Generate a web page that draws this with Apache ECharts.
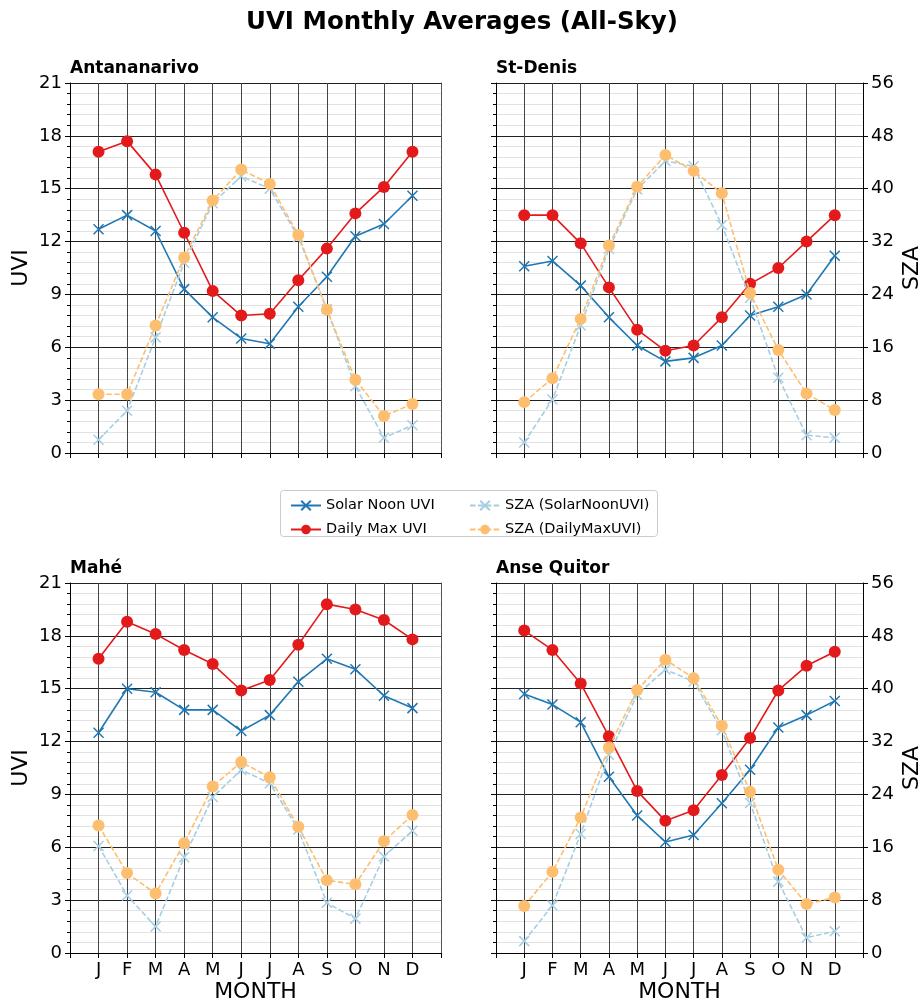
<!DOCTYPE html>
<html>
<head>
<meta charset="utf-8">
<script src="https://cdn.jsdelivr.net/npm/echarts@6/dist/echarts.min.js"></script>
<style>
html,body{margin:0;padding:0;background:#fff;}
#chart{width:924px;height:1006px;}
</style>
</head>
<body>
<div id="chart"></div>
<script>
// ---- Data ----
const MONTHS = ['J','F','M','A','M','J','J','A','S','O','N','D'];
const STATIONS = ['Antananarivo','St-Denis','Mahé','Anse Quitor'];
const SERIES_NAMES = ['Solar Noon UVI','Daily Max UVI','SZA (SolarNoonUVI)','SZA (DailyMaxUVI)'];
const UVI_TICKS = [0,3,6,9,12,15,18,21];
const SZA_TICKS = [0,8,16,24,32,40,48,56];

// Antananarivo
const ANTA_NOON_UVI = [12.7,13.5,12.6,9.3,7.7,6.5,6.2,8.3,10.0,12.3,13.0,14.6];
const ANTA_MAX_UVI  = [17.1,17.7,15.8,12.5,9.2,7.8,7.9,9.8,11.6,13.6,15.1,17.1];
const ANTA_SZA_NOON = [2.0,6.4,17.5,28.8,37.8,41.9,40.0,32.7,21.8,10.1,2.3,4.2];
const ANTA_SZA_MAX  = [8.9,8.9,19.3,29.6,38.2,42.9,40.7,33.0,21.7,11.1,5.6,7.4];
// St-Denis
const STD_NOON_UVI = [10.6,10.9,9.5,7.7,6.1,5.2,5.4,6.1,7.8,8.3,9.0,11.2];
const STD_MAX_UVI  = [13.5,13.5,11.9,9.4,7.0,5.8,6.1,7.7,9.6,10.5,12.0,13.5];
const STD_SZA_NOON = [1.6,8.1,19.3,30.9,39.9,44.2,43.4,34.5,23.5,11.4,2.7,2.3];
const STD_SZA_MAX  = [7.7,11.3,20.3,31.4,40.3,45.1,42.7,39.3,24.2,15.6,9.0,6.5];
// Mahé
const MAHE_NOON_UVI = [12.5,15.0,14.8,13.8,13.8,12.6,13.5,15.4,16.7,16.1,14.6,13.9];
const MAHE_MAX_UVI  = [16.7,18.8,18.1,17.2,16.4,14.9,15.5,17.5,19.8,19.5,18.9,17.8];
const MAHE_SZA_NOON = [16.2,8.7,4.0,14.5,23.6,27.7,25.7,18.7,7.6,5.2,14.6,18.5];
const MAHE_SZA_MAX  = [19.3,12.1,9.0,16.6,25.2,28.9,26.6,19.1,11.0,10.4,16.9,20.9];
// Anse Quitor
const ANSE_NOON_UVI = [14.7,14.1,13.1,10.0,7.8,6.3,6.7,8.5,10.4,12.8,13.5,14.3];
const ANSE_MAX_UVI  = [18.3,17.2,15.3,12.3,9.2,7.5,8.1,10.1,12.2,14.9,16.3,17.1];
const ANSE_SZA_NOON = [1.8,7.2,18.0,30.0,39.1,42.9,41.1,33.7,22.7,10.8,2.3,3.3];
const ANSE_SZA_MAX  = [7.1,12.3,20.5,31.1,39.8,44.4,41.6,34.4,24.4,12.6,7.4,8.4];

const PANEL_DATA = [
  [ANTA_NOON_UVI, ANTA_MAX_UVI, ANTA_SZA_NOON, ANTA_SZA_MAX],
  [STD_NOON_UVI, STD_MAX_UVI, STD_SZA_NOON, STD_SZA_MAX],
  [MAHE_NOON_UVI, MAHE_MAX_UVI, MAHE_SZA_NOON, MAHE_SZA_MAX],
  [ANSE_NOON_UVI, ANSE_MAX_UVI, ANSE_SZA_NOON, ANSE_SZA_MAX]
];

// ---- Styling ----
const FONT = 'DejaVu Sans';
const COLORS = ['#1f78b4','#e31a1c','#a6cee3','#fdbf6f'];
const XPATH = 'path://M0,0L10,10M10,0L0,10';
const GRIDS = [
  {left:70, top:83, width:371, height:370},
  {left:496, top:83, width:371, height:370},
  {left:70, top:583, width:371, height:370},
  {left:496, top:583, width:371, height:370}
];

const grid = [], xAxis = [], yAxis = [], series = [], graphic = [];

GRIDS.forEach((g, gi) => {
  const isLeft = gi % 2 === 0;
  const isBottom = gi >= 2;
  grid.push(Object.assign({containLabel:false}, g));
  xAxis.push({
    type:'value', gridIndex:gi, min:0, max:13, interval:1,
    name: isBottom ? 'MONTH' : '', nameLocation:'middle', nameGap:28,
    nameTextStyle:{fontFamily:FONT, fontSize:22, color:'#000'},
    axisLine:{show:true, onZero:false, lineStyle:{color:'#000', width:1}},
    axisTick:{show:true, length:5, lineStyle:{color:'#000'}},
    axisLabel:{show:isBottom, margin:8, fontFamily:FONT, fontSize:18, color:'#000',
      formatter: v => (v >= 1 && v <= 12) ? MONTHS[v-1] : ''},
    splitLine:{show:true, lineStyle:{color:'#444', width:1}}
  });
  // UVI axis
  yAxis.push({
    type:'value', gridIndex:gi, position:'left',
    min:UVI_TICKS[0], max:UVI_TICKS[UVI_TICKS.length-1], interval:UVI_TICKS[1]-UVI_TICKS[0],
    name: isLeft ? 'UVI' : '', nameLocation:'middle', nameGap:38, nameRotate:90,
    nameTextStyle:{fontFamily:FONT, fontSize:22, color:'#000'},
    axisLine:{show:true, lineStyle:{color:'#000', width:1}},
    axisTick:{show:true, length:5, lineStyle:{color:'#000'}},
    minorTick:{show:true, splitNumber:5, length:3, lineStyle:{color:'#000'}},
    axisLabel:{show:isLeft, margin:8, fontFamily:FONT, fontSize:18, color:'#000'},
    splitLine:{show:true, lineStyle:{color:'#222', width:1}},
    minorSplitLine:{show:true, lineStyle:{color:'#e2e2e2', width:1, type:'solid'}}
  });
  // SZA axis
  yAxis.push({
    type:'value', gridIndex:gi, position:'right',
    min:SZA_TICKS[0], max:SZA_TICKS[SZA_TICKS.length-1], interval:SZA_TICKS[1]-SZA_TICKS[0],
    name: isLeft ? '' : 'SZA', nameLocation:'middle', nameGap:38, nameRotate:90,
    nameTextStyle:{fontFamily:FONT, fontSize:22, color:'#000'},
    axisLine:{show:true, lineStyle:{color:isLeft ? '#555' : '#000', width:1}},
    axisTick:{show:!isLeft, length:5, lineStyle:{color:'#000'}},
    axisLabel:{show:!isLeft, margin:8, fontFamily:FONT, fontSize:18, color:'#000'},
    splitLine:{show:false}
  });
  const d = PANEL_DATA[gi];
  SERIES_NAMES.forEach((nm, si) => {
    const isSZA = si >= 2;
    const isX = si % 2 === 0;
    series.push({
      name:nm, type:'line', xAxisIndex:gi, yAxisIndex: gi*2 + (isSZA ? 1 : 0),
      data: d[si].map((v, i) => [i+1, v]),
      symbol: isX ? XPATH : 'circle',
      symbolSize: isX ? 10 : 12,
      symbolKeepAspect:true,
      showAllSymbol:true,
      z: 3 + si,
      animation:false,
      lineStyle:{color:COLORS[si], width:1.6, type: isSZA ? [5.5,2.4] : 'solid'},
      itemStyle:{color: isX ? 'rgba(0,0,0,0)' : COLORS[si], borderColor:COLORS[si], borderWidth: isX ? 1.5 : 0, opacity:1},
      emphasis:{disabled:true}
    });
  });
  graphic.push({
    type:'text', left:g.left, top: g.top - 23,
    style:{text:STATIONS[gi], font:'bold 17px "DejaVu Sans"', fill:'#000'}
  });
});

// legend frame
graphic.push({
  type:'rect', left:280, top:490, shape:{width:377, height:46, r:3},
  style:{fill:'#fff', stroke:'#cccccc', lineWidth:1}, z:-1
});

const legendCommon = {
  orient:'vertical', itemWidth:30, itemHeight:12, itemGap:9,
  textStyle:{fontFamily:FONT, fontSize:14.5, color:'#000'},
  selectedMode:false
};

const option = {
  backgroundColor:'#fff',
  animation:false,
  title:{text:'UVI Monthly Averages (All-Sky)', left:'center', top:5,
    textStyle:{fontFamily:FONT, fontSize:24.5, fontWeight:'bold', color:'#000'}},
  legend:[
    Object.assign({left:285, top:493, data:[SERIES_NAMES[0], SERIES_NAMES[1]]}, legendCommon),
    Object.assign({left:464, top:493, data:[SERIES_NAMES[2], SERIES_NAMES[3]]}, legendCommon)
  ],
  grid, xAxis, yAxis, series, graphic
};

const chart = echarts.init(document.getElementById('chart'), null, {renderer:'canvas'});
chart.setOption(option);
</script>
</body>
</html>
